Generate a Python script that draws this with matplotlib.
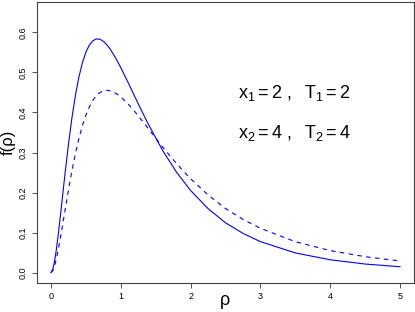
import matplotlib
matplotlib.use("Agg")
import matplotlib.pyplot as plt

plt.rcParams["font.family"] = ["Liberation Sans", "DejaVu Sans"]
plt.rcParams["mathtext.fontset"] = "custom"
plt.rcParams["mathtext.rm"] = "Liberation Sans"
plt.rcParams["mathtext.it"] = "Liberation Sans"

# values
rho = [0.0, 0.025, 0.05, 0.075, 0.1, 0.125, 0.15, 0.175, 0.2, 0.25, 0.3,
       0.35, 0.4, 0.45, 0.5, 0.55, 0.6, 0.65, 0.7, 0.75, 0.8, 0.85, 0.9,
       0.95, 1.0, 1.1, 1.2, 1.3, 1.4, 1.6, 1.8, 2.0, 2.25, 2.5, 2.75, 3.0,
       3.5, 4.0, 4.5, 5.0]
f_solid = [0.0, 0.0074, 0.0269, 0.0550, 0.0888, 0.1263, 0.1656, 0.2055,
           0.2449, 0.3197, 0.3862, 0.4425, 0.4884, 0.5241, 0.5505, 0.5685,
           0.5792, 0.5837, 0.5830, 0.5778, 0.5692, 0.5577, 0.5440, 0.5287,
           0.5121, 0.4766, 0.4400, 0.4037, 0.3688, 0.3049, 0.2504, 0.2051,
           0.1598, 0.1245, 0.0980, 0.0774, 0.0491, 0.0320, 0.0214, 0.0146]
f_dashed = [0.0, 0.0043, 0.0158, 0.0326, 0.0533, 0.0767, 0.1017, 0.1277,
            0.1539, 0.2055, 0.2538, 0.2971, 0.3349, 0.3669, 0.3932, 0.4142,
            0.4303, 0.4419, 0.4497, 0.4540, 0.4553, 0.4541, 0.4508, 0.4456,
            0.4390, 0.4222, 0.4023, 0.3807, 0.3582, 0.3136, 0.2719, 0.2344,
            0.1940, 0.1600, 0.1330, 0.1106, 0.0772, 0.0549, 0.0397, 0.0291]
xticks = [0, 1, 2, 3, 4, 5]
yticks = [0.0, 0.1, 0.2, 0.3, 0.4, 0.5, 0.6]

fig = plt.figure(figsize=(4.15, 3.12), dpi=100)
ax = fig.add_axes([37/415, 29/312, 377/415, 281/312])

ax.plot(rho, f_solid, color="#0000ff", lw=0.8)
ax.plot(rho, f_dashed, color="#0000ff", lw=0.8, ls=(0, (4, 4)))

ax.set_xlim(-0.2, 5.2)
ax.set_ylim(-0.026, 0.676)
ax.set_xticks(xticks)
ax.set_xticklabels([str(t) for t in xticks])
ax.set_yticks(yticks)
ax.set_yticklabels([f"{t:.1f}" for t in yticks], rotation=90, va="center")
ax.tick_params(labelsize=6.5, length=3.8, width=0.6, color="#333333", pad=3)

for s in ax.spines.values():
    s.set_color("#444444")
    s.set_linewidth(0.8)

# axis titles placed like R's outer margin labels
fig.text(225/415, (312-305)/312, "ρ", fontsize=13, ha="center", va="baseline")
fig.text(8/415, (312-142)/312, "f(ρ)", fontsize=12, rotation=90,
         ha="center", va="center")

ax.text(2.68, 0.449, r"$x_1 = 2\ ,\ \ T_1 = 2$", fontsize=13, va="center")
ax.text(2.68, 0.349, r"$x_2 = 4\ ,\ \ T_2 = 4$", fontsize=13, va="center")

fig.savefig("out.png", dpi=100)
